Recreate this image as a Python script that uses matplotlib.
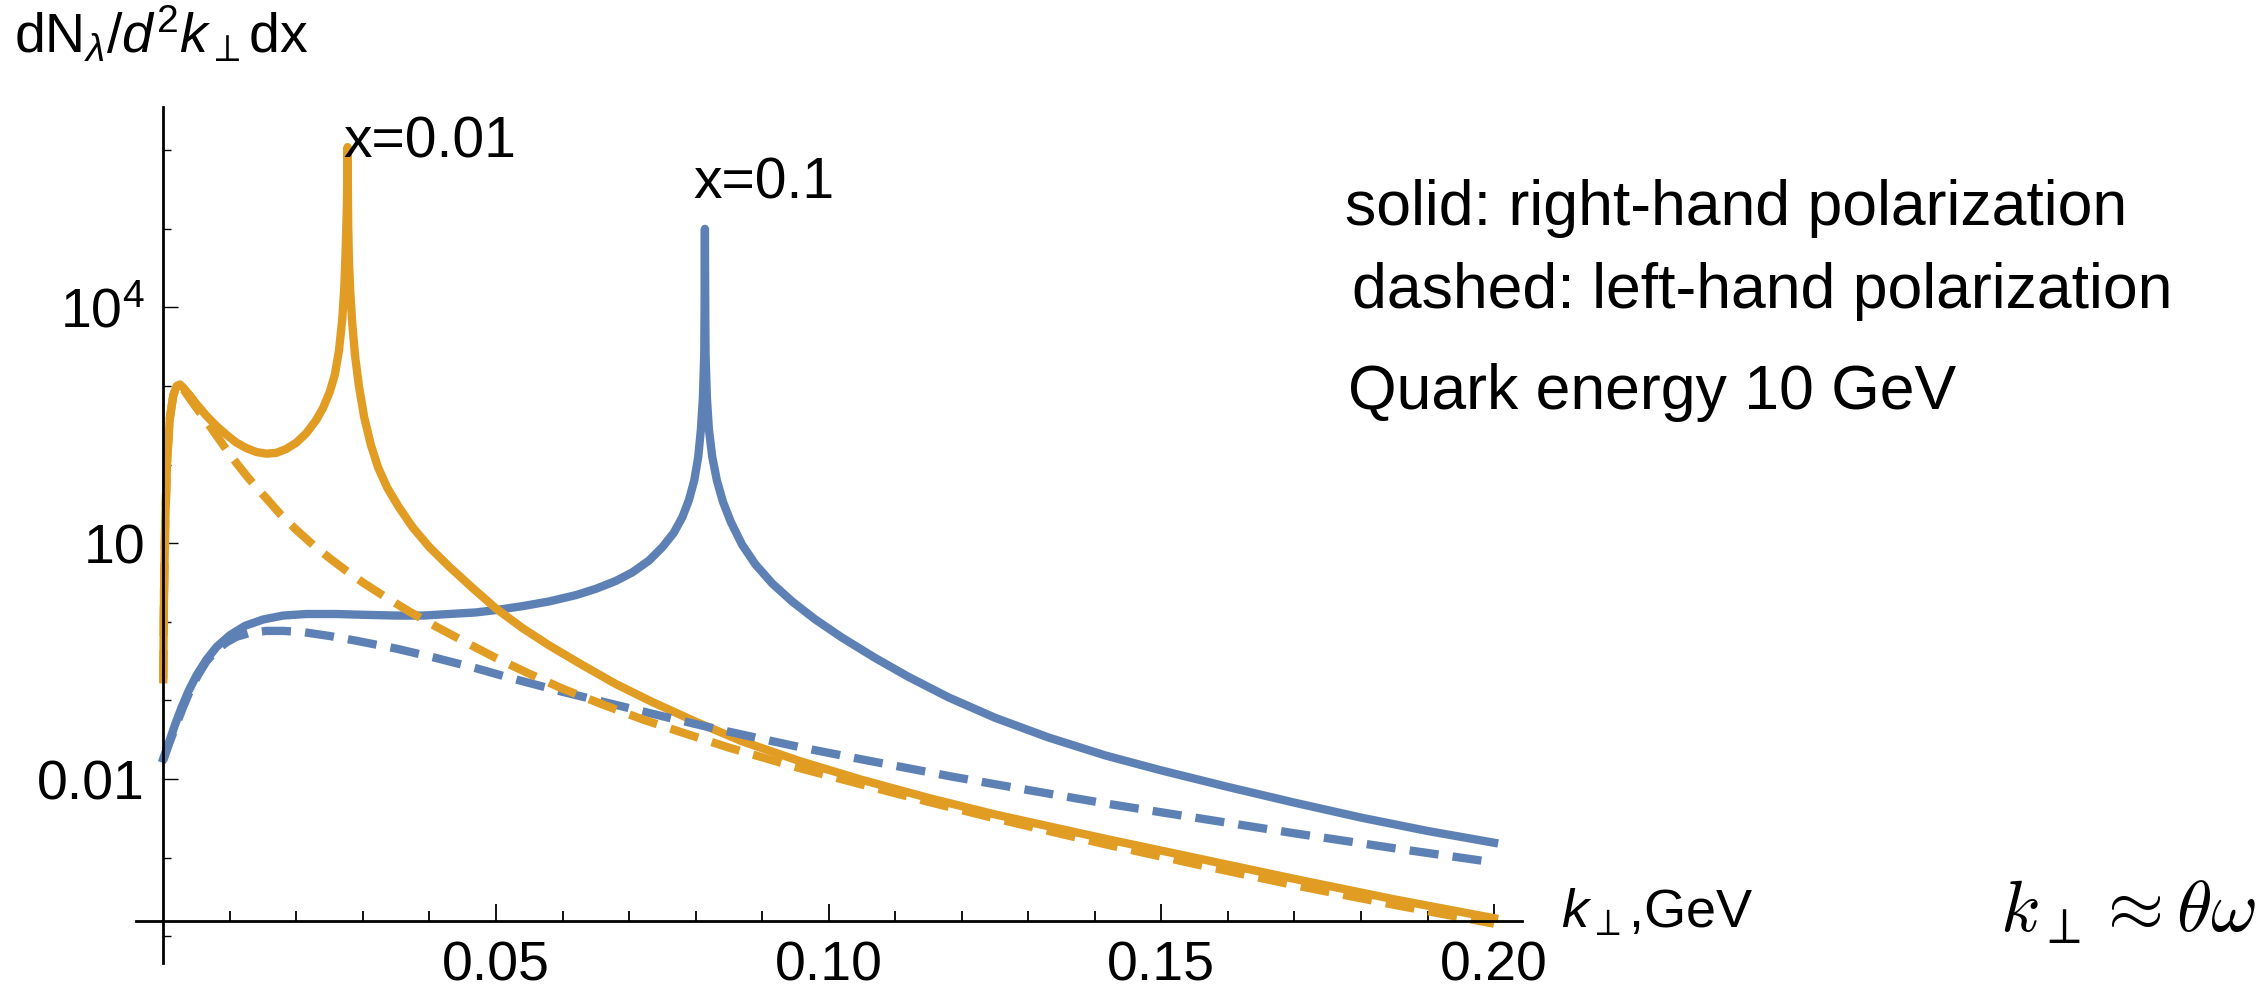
import numpy as np
import matplotlib
matplotlib.use("Agg")
import matplotlib.pyplot as plt
from matplotlib.ticker import FixedLocator, NullFormatter

plt.rcParams["font.family"] = ["Liberation Sans", "DejaVu Sans"]
plt.rcParams["mathtext.fontset"] = "custom"
plt.rcParams["mathtext.rm"] = "Liberation Sans"
plt.rcParams["mathtext.it"] = "Liberation Sans:italic"
plt.rcParams["mathtext.bf"] = "Liberation Sans:bold"

BLUE = "#5E81B5"
ORANGE = "#E19C24"

# spectra, log10 of dN/d^2k dx against k_perp (GeV)
# x = 0.1, right-hand polarization (solid)
k_r01 = [0, 0.0005, 0.001, 0.0018, 0.0027, 0.0038, 0.005, 0.0065, 0.008, 0.01,
         0.0123, 0.015, 0.018, 0.0215, 0.026, 0.03, 0.035, 0.039, 0.043, 0.047,
         0.05, 0.054, 0.058, 0.062, 0.065, 0.068, 0.0705, 0.073, 0.075, 0.0767,
         0.078, 0.079, 0.0798, 0.0804, 0.0808, 0.0811, 0.0813, 0.08135, 0.0814,
         0.08145, 0.0815, 0.0817, 0.082, 0.0825, 0.0832, 0.0841, 0.0853, 0.087,
         0.089, 0.0915, 0.0945, 0.098, 0.102, 0.107, 0.112, 0.118, 0.125, 0.133,
         0.1416, 0.15, 0.16, 0.17, 0.18, 0.19, 0.2]
lg_r01 = [-1.74, -1.62, -1.5, -1.3, -1.1, -0.88, -0.68, -0.48, -0.32, -0.17,
          -0.05, 0.03, 0.08, 0.10, 0.10, 0.09, 0.08, 0.08, 0.10, 0.12,
          0.15, 0.20, 0.26, 0.34, 0.42, 0.52, 0.63, 0.78, 0.95, 1.13,
          1.33, 1.55, 1.8, 2.1, 2.45, 2.85, 3.4, 4.0, 5.0,
          4.0, 3.4, 2.85, 2.45, 2.1, 1.8, 1.53, 1.27, 0.98,
          0.73, 0.49, 0.26, 0.03, -0.2, -0.46, -0.7, -0.96, -1.22, -1.47,
          -1.7, -1.89, -2.1, -2.3, -2.49, -2.66, -2.81]

# x = 0.01, right-hand polarization (solid)
k_r001 = [0, 0.0001, 0.0003, 0.0006, 0.001, 0.0015, 0.002, 0.0025, 0.003, 0.004,
          0.005, 0.0065, 0.008, 0.0095, 0.011, 0.0125, 0.014, 0.0155, 0.017,
          0.0185, 0.02, 0.0215, 0.023, 0.024, 0.025, 0.0258, 0.0264, 0.0269,
          0.0272, 0.0274, 0.0276, 0.0277, 0.02775, 0.0278, 0.0279, 0.0281,
          0.0284, 0.0288, 0.0294, 0.0302, 0.0312, 0.0323, 0.0337, 0.0354, 0.0375,
          0.040, 0.043, 0.0465, 0.050, 0.054, 0.058, 0.063, 0.068, 0.0735, 0.080,
          0.087, 0.0956, 0.105, 0.115, 0.125, 0.1416, 0.155, 0.17, 0.185, 0.2]
lg_r001 = [-0.73, 0.3, 1.3, 2.1, 2.6, 2.88, 3.0, 3.02, 2.98, 2.88,
           2.77, 2.62, 2.49, 2.38, 2.28, 2.21, 2.16, 2.14, 2.15,
           2.2, 2.28, 2.4, 2.57, 2.72, 2.92, 3.15, 3.45, 3.85,
           4.25, 4.7, 5.3, 6.04, 5.4, 5.0, 4.6, 4.2,
           3.8, 3.4, 3.0, 2.6, 2.25, 1.96, 1.7, 1.46, 1.2,
           0.95, 0.7, 0.43, 0.17, -0.08, -0.3, -0.55, -0.79, -1.02, -1.27,
           -1.52, -1.77, -2.01, -2.24, -2.45, -2.76, -3.0, -3.27, -3.53, -3.77]

# x = 0.1, left-hand polarization (dashed)
k_l01 = [0, 0.001, 0.002, 0.003, 0.004, 0.0052, 0.0065, 0.008, 0.0095, 0.011,
         0.013, 0.0155, 0.018, 0.021, 0.025, 0.029, 0.035, 0.041, 0.047, 0.052,
         0.06, 0.0677, 0.075, 0.083, 0.09, 0.096, 0.105, 0.1186, 0.13, 0.1416,
         0.155, 0.17, 0.185, 0.2]
lg_l01 = [-1.76, -1.52, -1.3, -1.08, -0.88, -0.68, -0.5, -0.36, -0.26, -0.19,
          -0.14, -0.115, -0.115, -0.13, -0.18, -0.24, -0.34, -0.46, -0.59, -0.71,
          -0.89, -1.05, -1.2, -1.36, -1.49, -1.6, -1.75, -1.97, -2.14, -2.31,
          -2.49, -2.69, -2.88, -3.06]

# x = 0.01, left-hand polarization (dashed)
k_l001 = [0, 0.0001, 0.0003, 0.0006, 0.001, 0.0015, 0.002, 0.0025, 0.003, 0.004,
          0.005, 0.0065, 0.008, 0.0095, 0.011, 0.0125, 0.014, 0.0155, 0.0177,
          0.02, 0.0225, 0.025, 0.0275, 0.03, 0.0335, 0.037, 0.041, 0.045, 0.05,
          0.055, 0.06, 0.066, 0.072, 0.0777, 0.085, 0.0956, 0.105, 0.115, 0.125,
          0.1416, 0.155, 0.17, 0.185, 0.2]
lg_l001 = [-0.73, 0.3, 1.3, 2.1, 2.6, 2.88, 3.0, 3.01, 2.96, 2.84,
           2.72, 2.55, 2.37, 2.19, 2.02, 1.86, 1.71, 1.57, 1.36,
           1.17, 0.98, 0.81, 0.65, 0.5, 0.31, 0.13, -0.06, -0.24, -0.46,
           -0.66, -0.85, -1.05, -1.24, -1.40, -1.6, -1.86, -2.07, -2.29, -2.5,
           -2.83, -3.08, -3.35, -3.6, -3.84]

xtick_vals = [0.05, 0.10, 0.15, 0.20]
xtick_labels = ["0.05", "0.10", "0.15", "0.20"]
ytick_vals = [1e-2, 1e1, 1e4]
ytick_labels = ["0.01", "10", r"10$^{4}$"]

W, H = 2266, 993
fig = plt.figure(figsize=(W / 100, H / 100), dpi=100)
ax = fig.add_axes([136 / W, 30 / H, (1522 - 136) / W, (963 - 107) / H])

ax.set_yscale("log")
ax.set_xlim(-0.0041, 0.2042)
ax.set_ylim(10 ** -4.34, 10 ** 6.55)

for side in ("top", "right"):
    ax.spines[side].set_visible(False)
ax.spines["left"].set_position(("data", 0))
ax.spines["bottom"].set_position(("data", 10 ** -3.81))
for side in ("left", "bottom"):
    ax.spines[side].set_linewidth(2.0)

lw = 6.0
dash = (0, (3.5, 1.7))
ax.plot(k_r01, 10 ** np.array(lg_r01), color=BLUE, lw=lw, solid_joinstyle="round")
ax.plot(k_r001, 10 ** np.array(lg_r001), color=ORANGE, lw=lw, solid_joinstyle="round")
ax.plot(k_l01, 10 ** np.array(lg_l01), color=BLUE, lw=lw, linestyle=dash)
ax.plot(k_l001, 10 ** np.array(lg_l001), color=ORANGE, lw=lw, linestyle=dash)

ax.set_xticks(xtick_vals)
ax.set_xticklabels(xtick_labels)
ax.xaxis.set_minor_locator(FixedLocator([v / 100 for v in range(1, 21) if v % 5]))
ax.set_yticks(ytick_vals)
ax.set_yticklabels(ytick_labels)
ax.yaxis.set_minor_locator(FixedLocator([1e-4, 1e-3, 1e-1, 1, 1e2, 1e3, 1e5, 1e6]))
ax.yaxis.set_minor_formatter(NullFormatter())

ax.tick_params(axis="x", which="major", direction="in", length=12, width=1.3,
               pad=14, labelsize=40)
ax.tick_params(axis="x", which="minor", direction="in", length=7, width=1.3)
ax.tick_params(axis="y", which="major", direction="in", length=11, width=1.0,
               pad=13, labelsize=40)
ax.tick_params(axis="y", which="minor", direction="in", length=6, width=1.0)

ax.text(0.02705, 10 ** 5.91, "x=0.01", fontsize=41, va="baseline", ha="left")
ax.text(0.0796, 10 ** 5.38, "x=0.1", fontsize=41, va="baseline", ha="left")

fig.text(14 / W, 1 - 35 / H, r"dN$_{\lambda}$/$d^{2}k_{\perp}$dx", fontsize=40,
         va="center", ha="left")
fig.text(1345 / W, 1 - 208 / H, "solid: right-hand polarization", fontsize=45,
         va="center", ha="left")
fig.text(1352 / W, 1 - 292 / H, "dashed: left-hand polarization", fontsize=45,
         va="center", ha="left")
fig.text(1348 / W, 1 - 393 / H, "Quark energy 10 GeV", fontsize=45,
         va="center", ha="left")
fig.text(1561 / W, 1 - 913 / H, r"$k_{\perp}$,GeV", fontsize=39,
         va="center", ha="left")
fig.text(2000 / W, 1 - 913 / H, r"$k_{\perp}\approx\theta\omega$", fontsize=52,
         va="center", ha="left", math_fontfamily="cm")

fig.savefig("out.png", dpi=100)
